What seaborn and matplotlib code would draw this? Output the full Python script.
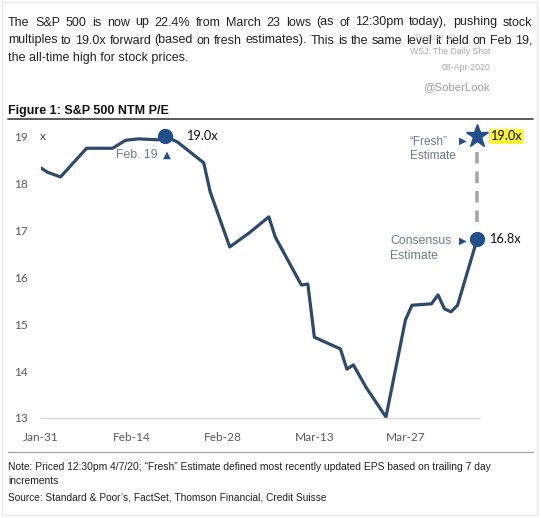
import matplotlib
matplotlib.use("Agg")
import matplotlib.pyplot as plt
import seaborn as sns
import pandas as pd
from matplotlib.lines import Line2D
from matplotlib.patches import Rectangle

# ---------------- data ----------------
dates = ["2020-01-31", "2020-02-01", "2020-02-03", "2020-02-07", "2020-02-11",
         "2020-02-13", "2020-02-15", "2020-02-18", "2020-02-19", "2020-02-21",
         "2020-02-25", "2020-02-26", "2020-02-29", "2020-03-03", "2020-03-06",
         "2020-03-07", "2020-03-11", "2020-03-12", "2020-03-13", "2020-03-17",
         "2020-03-18", "2020-03-19", "2020-03-21", "2020-03-24", "2020-03-27",
         "2020-03-28", "2020-03-31", "2020-04-01", "2020-04-02", "2020-04-03",
         "2020-04-04", "2020-04-07"]
pe = [18.32, 18.23, 18.13, 18.74, 18.74,
      18.91, 18.94, 18.92, 19.00, 18.87,
      18.43, 17.81, 16.64, 16.94, 17.28,
      16.85, 15.83, 15.85, 14.72, 14.47,
      14.04, 14.13, 13.64, 13.02, 15.09,
      15.40, 15.43, 15.62, 15.32, 15.26,
      15.40, 16.80]

peak_date, peak_value = "2020-02-19", 19.0
consensus_date, consensus_value = "2020-04-07", 16.8
fresh_value = 19.0

tick_dates = ["2020-01-31", "2020-02-14", "2020-02-28", "2020-03-13", "2020-03-27"]
tick_labels = ["Jan-31", "Feb-14", "Feb-28", "Mar-13", "Mar-27"]
y_ticks = [13, 14, 15, 16, 17, 18, 19]

header_lines = [
    "The S&P 500 is now up 22.4% from March 23 lows (as of 12:30pm today), pushing stock",
    "multiples to 19.0x forward (based on fresh estimates). This is the same level it held on Feb 19,",
    "the all-time high for stock prices.",
]
note_lines = [
    "Note: Priced 12:30pm 4/7/20; \u201cFresh\u201d Estimate defined most recently updated EPS based on trailing 7 day",
    "increments",
]
source_text = "Source: Standard & Poor\u2019s, FactSet, Thomson Financial, Credit Suisse"
title_text = "Figure 1: S&P 500 NTM P/E"

# ---------------- style ----------------
sns.set_style("white")
plt.rcParams["font.family"] = ["Liberation Sans", "DejaVu Sans"]

W, H = 541, 518
fig = plt.figure(figsize=(W / 100, H / 100), dpi=100)
fx = lambda px: px / W
fy = lambda py: 1 - py / H

NAVY = "#2d4a6c"
BLUE = "#23508a"
GRAY_TXT = "#6f7a89"

df = pd.DataFrame({"date": pd.to_datetime(dates), "pe": pe})

ax = fig.add_axes([fx(41), fy(418), fx(480) - fx(41), fy(129) - fy(418)])
sns.lineplot(data=df, x="date", y="pe", ax=ax, color=NAVY, linewidth=2.3,
             solid_joinstyle="round", solid_capstyle="round")

x0 = pd.Timestamp(dates[0])
ax.set_xlim(x0, x0 + pd.Timedelta(days=67.45))
ax.set_ylim(13, 19.15)
ax.set_xlabel("")
ax.set_ylabel("")
ax.set_xticks(pd.to_datetime(tick_dates))
ax.set_xticklabels(tick_labels)
ax.set_yticks(y_ticks)
ax.set_yticklabels([str(v) for v in y_ticks])
ax.tick_params(axis="both", length=0, colors="#5a5a5a", labelsize=8.6)
ax.tick_params(axis="x", pad=10)
ax.tick_params(axis="y", pad=9.5)
for lab in ax.get_xticklabels() + ax.get_yticklabels():
    lab.set_family(["Lato", "DejaVu Sans"])
for s in ["left", "right", "top"]:
    ax.spines[s].set_visible(False)
ax.spines["bottom"].set_color("#d9d9d9")
ax.spines["bottom"].set_linewidth(1.0)
ax.grid(False)

# markers
pk = pd.Timestamp(peak_date)
cd = pd.Timestamp(consensus_date)
ax.plot([pk], [peak_value], "o", color=BLUE, markersize=10, clip_on=False, zorder=5)
ax.plot([cd], [consensus_value], "o", color=BLUE, markersize=10, clip_on=False, zorder=5)
ax.plot([cd], [fresh_value], "*", color=BLUE, markersize=17, clip_on=False, zorder=5)
ax.plot([cd, cd], [18.66, 17.04], color="#a6a6a6", linewidth=2.6,
        linestyle=(0, (3.2, 2.2)), zorder=3)

num_font = ["Lato", "DejaVu Sans"]
ax.annotate(f"{peak_value:.1f}x", (pk, peak_value), xytext=(21, 0), textcoords="offset pixels",
            ha="left", va="center", fontsize=9.2, color="#111111", family=num_font)
ax.annotate("Feb. 19", (pk, peak_value), xytext=(-7, -19), textcoords="offset pixels",
            ha="right", va="center", fontsize=8.8, color=GRAY_TXT)
ax.annotate("\u25B2", (pk, peak_value), xytext=(2, -19), textcoords="offset pixels",
            ha="center", va="center", fontsize=7.5, color=BLUE, family=["DejaVu Sans"])

ax.annotate(f"{fresh_value:.1f}x", (cd, fresh_value), xytext=(13, 0), textcoords="offset pixels",
            ha="left", va="center", fontsize=9.2, color="#111111", family=num_font,
            bbox=dict(boxstyle="square,pad=0.12", fc="#fbf43a", ec="none"))
ax.annotate("\u25B6", (cd, fresh_value), xytext=(-14, -5), textcoords="offset pixels",
            ha="center", va="center", fontsize=7.2, color=BLUE, family=["DejaVu Sans"])
ax.annotate("\u201cFresh\u201d\nEstimate", (cd, fresh_value), xytext=(-67, -13), textcoords="offset pixels",
            ha="left", va="center", fontsize=8.5, color=GRAY_TXT, linespacing=1.3)

ax.annotate(f"{consensus_value:.1f}x", (cd, consensus_value), xytext=(12, 0), textcoords="offset pixels",
            ha="left", va="center", fontsize=9.2, color="#111111", family=num_font)
ax.annotate("\u25B6", (cd, consensus_value), xytext=(-14, -1), textcoords="offset pixels",
            ha="center", va="center", fontsize=7.2, color=BLUE, family=["DejaVu Sans"])
ax.annotate("Consensus\nEstimate", (cd, consensus_value), xytext=(-87, -9), textcoords="offset pixels",
            ha="left", va="center", fontsize=8.8, color=GRAY_TXT, linespacing=1.25)

fig.text(fx(40), fy(137), "x", ha="left", va="center", fontsize=8.6, color="#444444",
         family=num_font)

# ---------------- surrounding text ----------------
renderer = fig.canvas.get_renderer()


def justified_line(text, x_left, x_right, baseline_px, **kw):
    words = text.split(" ")
    arts = [fig.text(0, fy(baseline_px), w, ha="left", va="baseline", **kw) for w in words]
    widths = [a.get_window_extent(renderer).width for a in arts]
    gap = (x_right - x_left - sum(widths)) / max(len(words) - 1, 1)
    x = x_left
    for a, w in zip(arts, widths):
        a.set_x(fx(x))
        x += w + gap


header_kw = dict(fontsize=9.0, color="#222222")
justified_line(header_lines[0], 8, 532, 25.5, **header_kw)
justified_line(header_lines[1], 8, 532, 43.5, **header_kw)
fig.text(fx(8), fy(61.5), header_lines[2], ha="left", va="baseline", **header_kw)

fig.text(fx(415), fy(38), "Posted on", ha="left", va="center", fontsize=6.5, color="#cccccc")
fig.text(fx(490), fy(52), "WSJ: The Daily Shot", ha="right", va="center", fontsize=6.3, color="#a9a9a9")
fig.text(fx(490), fy(67), "08-Apr-2020", ha="right", va="center", fontsize=6.3, color="#a9a9a9")
fig.text(fx(490), fy(87), "@SoberLook", ha="right", va="center", fontsize=8.2, color="#9c9c9c")

fig.text(fx(8), fy(111), title_text, ha="left", va="center", fontsize=9.0, weight="bold", color="#111111")
fig.add_artist(Line2D([fx(8), fx(533)], [fy(119), fy(119)], color="#4d4d4d", linewidth=1.3))
fig.add_artist(Line2D([fx(8), fx(533)], [fy(452), fy(452)], color="#a0a0a0", linewidth=0.9))

fig.text(fx(8), fy(467), note_lines[0], ha="left", va="center", fontsize=7.4, color="#222222")
fig.text(fx(8), fy(481), note_lines[1], ha="left", va="center", fontsize=7.4, color="#222222")
fig.text(fx(8), fy(497), source_text, ha="left", va="center", fontsize=7.3, color="#222222")

fig.add_artist(Rectangle((fx(2), fy(515)), fx(537) - fx(2), fy(2) - fy(515), fill=False,
                         ec="#e8e8e8", lw=1.0, transform=fig.transFigure))

fig.savefig("out.png", dpi=100)
